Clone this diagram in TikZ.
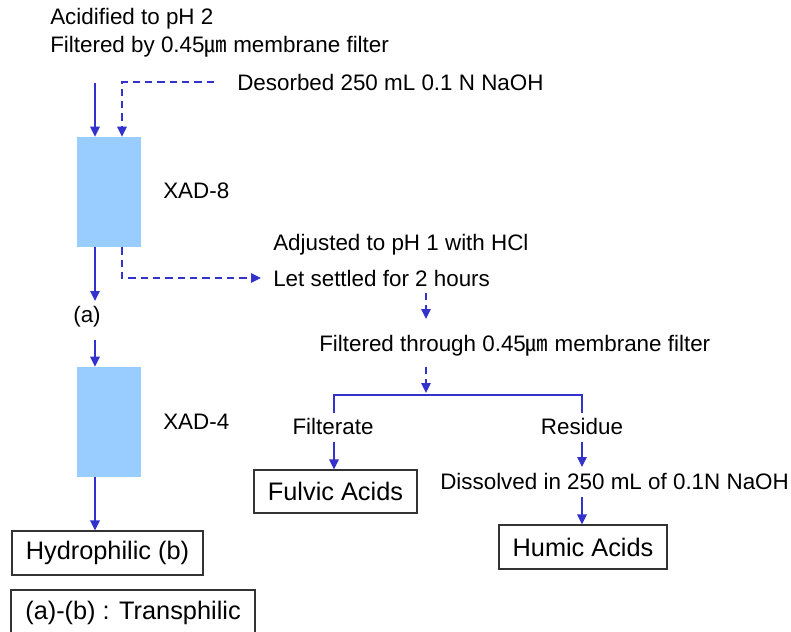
\documentclass[tikz,border=0pt]{standalone}
\usepackage{fontspec}
\setmainfont{Liberation Sans}
\newfontfamily\cjk{Noto Sans CJK KR}
\usetikzlibrary{arrows.meta,calc}
\definecolor{flow}{RGB}{51,51,204}
\definecolor{resin}{RGB}{153,204,255}
\definecolor{frame}{RGB}{51,51,51}
\newcommand{\umicro}{{\cjk ㎛}}
\tikzset{
  txt/.style={inner sep=0pt, font=\fontsize{16.8pt}{20pt}\selectfont},
  column/.style={fill=resin, draw=none, minimum width=64*0.75pt, minimum height=110*0.75pt, inner sep=0pt},
  result/.style={draw=frame, line width=0.9pt, inner sep=0pt, font=\fontsize{19pt}{22pt}\selectfont},
  solidflow/.style={draw=flow, line width=1.5pt, -{Triangle[length=7.5pt,width=7pt]}},
  dashflow/.style={draw=flow, line width=1.5pt, dash pattern=on 5.5pt off 3.75pt, -{Triangle[length=7.5pt,width=7pt]}},
  branch/.style={draw=flow, line width=1.5pt}
}
\begin{document}
\begin{tikzpicture}[x=0.75pt, y=-0.75pt]
\useasboundingbox (0,0) rectangle (791,631);

% pretreatment notes
\node[txt, anchor=base west] (acid) at (50,25) {Acidified to pH 2};
\node[txt, anchor=base west] (prefilt) at (50,53) {Filtered by 0.45\umicro{} membrane filter};
\node[txt, anchor=base west] (desorb) at (237,91) {Desorbed 250 mL 0.1 N NaOH};

% resin columns
\node[column] (xad8) at (109,192) {};
\node[column] (xad4) at (109,422) {};
\node[txt, anchor=base west] (lab8) at (163,198) {XAD-8};
\node[txt, anchor=base west] (lab4) at (163,429) {XAD-4};

% column outlet labels and boxes
\node[txt] (a) at (87,317) {(a)};
\node[result, minimum width=191*0.75pt, minimum height=44*0.75pt] (hydro) at (107.5,553) {Hydrophilic (b)};
\node[result, minimum width=244*0.75pt, minimum height=46*0.75pt] (trans) at (133,613) {(a)-(b) : Transphilic};

% humic / fulvic separation
\node[txt, anchor=base west] (adjust) at (273,250) {Adjusted to pH 1 with HCl};
\node[txt, anchor=base west] (settle) at (273,286) {Let settled for 2 hours};
\node[txt, anchor=base west] (filt) at (319,351) {Filtered through 0.45\umicro{} membrane filter};
\node[txt, anchor=base] (filtrate) at (333,434) {Filterate};
\node[txt, anchor=base] (residue) at (582,434) {Residue};
\node[txt, anchor=base west] (dissolve) at (440,489) {Dissolved in 250 mL of 0.1N NaOH};
\node[result, minimum width=163*0.75pt, minimum height=43*0.75pt] (fulvic) at (335.5,491.5) {Fulvic Acids};
\node[result, minimum width=168*0.75pt, minimum height=44*0.75pt] (humic) at (583,547) {Humic Acids};

% column lines
\coordinate (scol) at (95,0);
\coordinate (dcol) at (122,0);
\coordinate (feed) at (95,83);
\coordinate (elu) at (214,82);
\coordinate (aTop) at (95,301);
\coordinate (aBot) at (95,340);

\draw[solidflow] (feed) -- (scol |- xad8.north);
\draw[dashflow] (elu) -| (dcol |- xad8.north);
\draw[solidflow] (scol |- xad8.south) -- (aTop);
\draw[solidflow] (aBot) -- (scol |- xad4.north);
\draw[solidflow] (scol |- xad4.south) -- (scol |- hydro.north);
\draw[dashflow] (dcol |- xad8.south) |- ($(settle.west)+(-12,0)$);

% precipitation and filtration
\coordinate (s1) at (426,293);
\coordinate (s2) at (426,319);
\coordinate (f1) at (426,367);
\coordinate (f2) at (426,393);
\draw[dashflow] (s1) -- (s2);
\draw[dashflow] (f1) -- (f2);

\coordinate (bl) at (334,413);
\coordinate (br) at (582,413);
\coordinate (btop) at (0,395);
\draw[branch] (bl) -- (bl |- btop) -- (br |- btop) -- (br);

\coordinate (fa) at (334,442);
\coordinate (ra) at (582,442);
\coordinate (rb) at (582,467);
\coordinate (da) at (582,497);
\draw[solidflow] (fa) -- (fa |- fulvic.north);
\draw[solidflow] (ra) -- (rb);
\draw[solidflow] (da) -- (da |- humic.north);
\end{tikzpicture}
\end{document}
